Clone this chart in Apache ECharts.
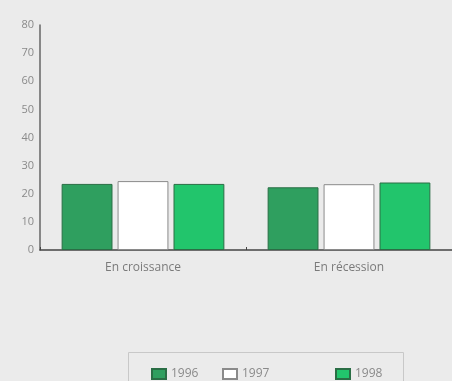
<!DOCTYPE html>
<html>
<head>
<meta charset="utf-8">
<script src="https://cdn.jsdelivr.net/npm/echarts@6/dist/echarts.min.js"></script>
<style>
  html, body { margin: 0; padding: 0; background: #ebebeb; }
  #chart { width: 452px; height: 381px; }
</style>
</head>
<body>
<div id="chart"></div>
<script>
// Categories and yearly values (%)
const categories = ['En croissance', 'En récession'];
const years = ['1996', '1997', '1998'];
const values1996 = [23.5, 22.3];
const values1997 = [24.5, 23.4];
const values1998 = [23.5, 24.0];
const yTicks = [0, 10, 20, 30, 40, 50, 60, 70, 80];

const fills = ['#2f9f5f', '#ffffff', '#22c56c'];
const borders = ['#2a6e45', '#8a8a8a', '#2a6e45'];
const seriesValues = [values1996, values1997, values1998];

const chart = echarts.init(document.getElementById('chart'));
const font = '"Open Sans", "Noto Sans", sans-serif';

chart.setOption({
  backgroundColor: '#ebebeb',
  animation: false,
  grid: { left: 40, right: 0, top: 25, bottom: 131, containLabel: false },
  xAxis: {
    type: 'category',
    data: categories,
    axisLine: { lineStyle: { color: '#444', width: 1.5 } },
    axisTick: { show: true, inside: true, length: 3, lineStyle: { color: '#444' } },
    axisLabel: { color: '#7a7a7a', fontSize: 12, fontFamily: font, margin: 12 }
  },
  yAxis: {
    type: 'value',
    min: yTicks[0],
    max: yTicks[yTicks.length - 1],
    interval: 10,
    axisLine: { show: true, lineStyle: { color: '#666', width: 1.5 } },
    axisTick: { show: false },
    splitLine: { show: false },
    axisLabel: { color: '#8a8a8a', fontSize: 11, fontFamily: font, margin: 6 }
  },
  legend: years.map((y, i) => ({
    data: [y],
    left: [146, 217, 330][i],
    top: 363,
    icon: 'rect',
    itemWidth: 14,
    itemHeight: 10,
    itemGap: 4,
    textStyle: { color: '#8a8a8a', fontSize: 12, fontFamily: font },
    selectedMode: false
  })),
  graphic: [{
    type: 'rect',
    shape: { x: 128.5, y: 352.5, width: 275, height: 40 },
    style: { fill: 'none', stroke: '#c8c8c8', lineWidth: 1 },
    silent: true
  }],
  series: years.map((y, i) => ({
    name: y,
    type: 'bar',
    data: seriesValues[i],
    barGap: '10%',
    barCategoryGap: '21%',
    itemStyle: { color: fills[i], borderColor: borders[i], borderWidth: 1 }
  }))
});
</script>
</body>
</html>
